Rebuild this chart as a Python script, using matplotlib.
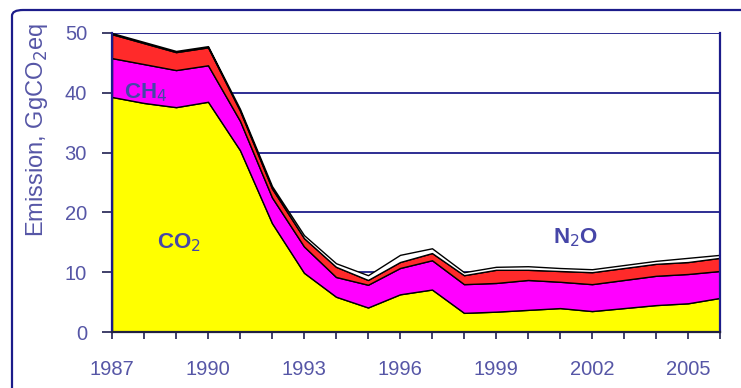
import matplotlib.pyplot as plt
from matplotlib.patches import FancyBboxPatch

# --- dados (GgCO2eq) ---
anos = list(range(1987, 2007))
co2 = [39.3, 38.3, 37.6, 38.5, 30.4, 18.2, 9.9, 5.9, 4.1, 6.3,
       7.1, 3.2, 3.4, 3.7, 4.0, 3.5, 4.0, 4.5, 4.8, 5.7]
ch4 = [6.5, 6.5, 6.2, 6.1, 4.9, 4.3, 4.4, 3.3, 3.8, 4.4,
       4.9, 4.8, 4.8, 5.0, 4.4, 4.5, 4.7, 4.9, 4.9, 4.5]
n2o = [4.0, 3.5, 3.0, 3.0, 1.7, 1.5, 1.4, 1.7, 0.8, 1.0,
       1.2, 1.5, 2.2, 1.7, 1.8, 2.0, 2.0, 2.0, 2.0, 2.2]
outros = [0.2, 0.2, 0.2, 0.2, 0.3, 0.4, 0.5, 0.6, 0.8, 1.2,
          0.8, 0.5, 0.5, 0.6, 0.5, 0.5, 0.5, 0.5, 0.7, 0.5]
anos_rotulo = [1987, 1990, 1993, 1996, 1999, 2002, 2005]
y_ticks = [0, 10, 20, 30, 40, 50]

AZUL = '#1c1c8a'
TEXTO = '#5656a6'
plt.rcParams['font.family'] = ['Liberation Sans', 'DejaVu Sans']

fig = plt.figure(figsize=(7.41, 3.88), dpi=100)
ax = fig.add_axes([112 / 741, 1 - 332 / 388, 608 / 741, 299 / 388])

# moldura externa arredondada
moldura = FancyBboxPatch((12 / 741, -0.2), 1.2, 1.2 - 10 / 388,
                         boxstyle='round,pad=0,rounding_size=0.015',
                         transform=fig.transFigure, fill=False,
                         edgecolor=AZUL, linewidth=1.6, clip_on=False)
fig.patches.append(moldura)

ax.stackplot(anos, co2, ch4, n2o, outros,
             colors=['#ffff00', '#ff00ff', '#ff2a2a', '#ffffff'],
             edgecolor='black', linewidth=1.0, zorder=2)

ax.set_xlim(1987, 2006)
ax.set_ylim(0, 50)
ax.set_yticks(y_ticks)
ax.set_xticks(anos)
ax.set_xticklabels([str(a) if a in anos_rotulo else '' for a in anos])
for t in y_ticks[1:]:
    ax.axhline(t, color=AZUL, linewidth=1.3, zorder=1)

ax.tick_params(axis='both', direction='out', width=1.2,
               color='#202050', labelcolor=TEXTO, labelsize=14.5)
ax.tick_params(axis='x', length=5, pad=15)
ax.tick_params(axis='y', length=7, pad=11)
for lado in ['left', 'right']:
    ax.spines[lado].set_color(AZUL)
    ax.spines[lado].set_linewidth(1.6)
ax.spines['bottom'].set_color('#202040')
ax.spines['bottom'].set_linewidth(1.6)
ax.spines['top'].set_visible(False)

ax.set_ylabel('Emission, GgCO$_2$eq', color=TEXTO, fontsize=17)
ax.yaxis.set_label_coords(-0.102, 0.675)

for x, y, rotulo in [(1988.05, 40.1, 'CH$_4$'), (1989.1, 15.0, 'CO$_2$'),
                     (2001.5, 15.7, 'N$_2$O')]:
    ax.text(x, y, rotulo, color='#4646a8', fontsize=16,
            fontweight='bold', ha='center', va='center', zorder=3)

fig.savefig('out.png', dpi=100)
